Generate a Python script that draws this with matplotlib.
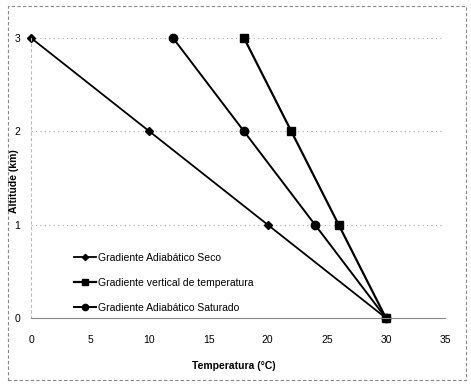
import matplotlib
matplotlib.use("Agg")
import matplotlib.pyplot as plt
from matplotlib.patches import Rectangle

plt.rcParams["font.family"] = ["Liberation Sans", "DejaVu Sans"]

altitude = [0, 1, 2, 3]
seco = [30, 20, 10, 0]
vertical = [30, 26, 22, 18]
saturado = [30, 24, 18, 12]
labels = ["Gradiente Adiabático Seco",
          "Gradiente vertical de temperatura",
          "Gradiente Adiabático Saturado"]

fig = plt.figure(figsize=(4.71, 3.86), dpi=100)
ax = fig.add_axes([0.066, 0.176, 0.879, 0.7256])

ax.plot(seco, altitude, color="black", lw=1.3, marker="D", ms=4.2,
        clip_on=False, label=labels[0])
ax.plot(vertical, altitude, color="black", lw=1.6, marker="s", ms=5.8,
        clip_on=False, label=labels[1])
ax.plot(saturado, altitude, color="black", lw=1.4, marker="o", ms=6,
        clip_on=False, label=labels[2])

ax.set_xlim(0, 35)
ax.set_ylim(0, 3)
ax.set_xticks(range(0, 36, 5))
ax.set_yticks([0, 1, 2, 3])
ax.yaxis.grid(True, color="#aaaaaa", ls=(0, (1, 3)), lw=0.8)
ax.set_axisbelow(True)
for s in ["top", "right"]:
    ax.spines[s].set_visible(False)
ax.spines["left"].set_color("#bbbbbb")
ax.spines["left"].set_linestyle((0, (2, 3)))
ax.spines["left"].set_linewidth(0.8)
ax.spines["bottom"].set_color("#888888")
ax.spines["bottom"].set_linewidth(0.8)
ax.tick_params(length=0, labelsize=7.5, pad=12)
ax.tick_params(axis="y", pad=8)

ax.set_xlabel("Temperatura (°C)", fontsize=7.5, fontweight="bold")
ax.set_ylabel("Altitude (km)", fontsize=7.5, fontweight="bold")
ax.xaxis.set_label_coords(0.49, -0.155)
ax.yaxis.set_label_coords(-0.03, 0.49)

leg = ax.legend(loc="lower left", bbox_to_anchor=(0.08, -0.015), frameon=False,
                fontsize=7.5, handlelength=2.2, handletextpad=0.1,
                labelspacing=1.45, markerscale=0.75)

fig.patches.append(Rectangle((0.017, 0.015), 0.973, 0.97, transform=fig.transFigure,
                             fill=False, ec="#888888", lw=0.8, ls=(0, (3, 2))))

fig.savefig("out.png", dpi=100)
